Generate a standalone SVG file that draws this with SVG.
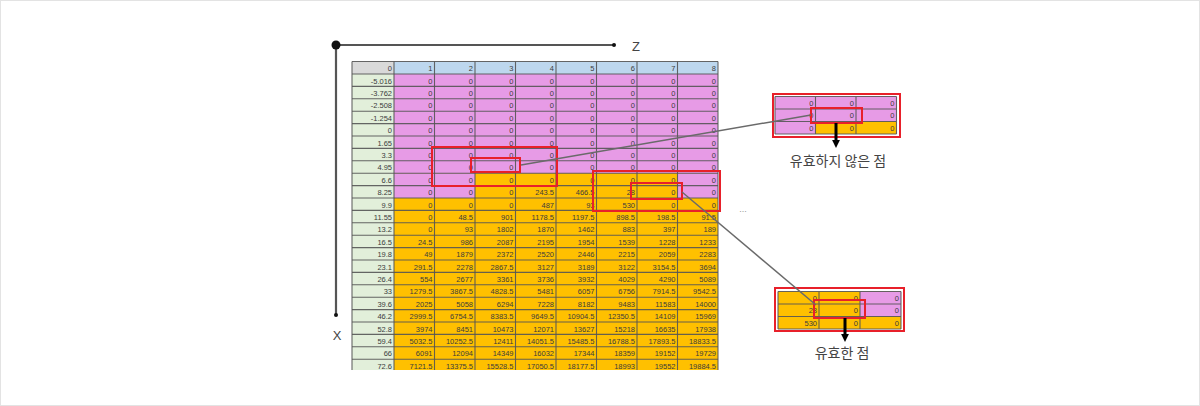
<svg xmlns="http://www.w3.org/2000/svg" width="1200" height="406" viewBox="0 0 1200 406">
<defs>
<style>
.t{font-family:"Liberation Sans",Arial,sans-serif;font-size:7.5px;fill:#3c3c3c;text-anchor:end}
.g{stroke:#555;stroke-width:1.1;fill:none;opacity:0.9}
.red{fill:none;stroke:#E8202A;stroke-width:2}
.pk{fill:#E79BE6}
.og{fill:#FFC000}
.conn{stroke:#6a6a6a;stroke-width:1.5;fill:none}
.ax{stroke:#555;stroke-width:2.2;fill:none}
.lbl{font-family:"Noto Sans CJK KR","Noto Sans",sans-serif;font-size:14px;fill:#444;text-anchor:middle}
.axl{font-family:"Liberation Sans",Arial,sans-serif;font-size:13px;fill:#444;text-anchor:middle}
</style>
<marker id="ah" viewBox="0 0 10 10" refX="5" refY="5" markerWidth="2.6" markerHeight="2.6" orient="auto">
<path d="M0,0 L10,5 L0,10 Z" fill="#000"/>
</marker>
<clipPath id="tc"><rect x="350" y="60" width="372" height="310"/></clipPath>
</defs>
<rect x="0.5" y="0.5" width="1199" height="405" fill="#fff" stroke="#e3e3e3"/>

<g id="axes">
<line class="ax" x1="336" y1="45" x2="614" y2="45"/>
<line class="ax" x1="336" y1="45" x2="336" y2="315"/>
<circle cx="336" cy="45" r="4.5" fill="#111"/>
<circle cx="614" cy="45" r="2" fill="#111"/>
<circle cx="336" cy="315" r="2" fill="#111"/>
<text class="axl" x="636" y="51">Z</text>
<text class="axl" x="337" y="340">X</text>
</g>

<g id="table" clip-path="url(#tc)">
<rect x="352" y="61.5" width="42" height="12.5" fill="#D9D9D9"/>
<rect x="394" y="61.5" width="324" height="12.5" fill="#BDD7EE"/>
<rect x="352" y="74" width="42" height="298" fill="#E2EFDA"/>
<rect class="og" x="394" y="74" width="324" height="298"/>
<rect class="pk" x="394" y="74" width="324" height="99.2"/>
<rect class="pk" x="394" y="173.2" width="81" height="24.8"/>
<rect class="pk" x="677.5" y="173.2" width="40.5" height="24.8"/>
<path class="g" d="M352,61.5H718M352,74H718M352,86.4H718M352,98.8H718M352,111.2H718M352,123.6H718M352,136H718M352,148.4H718M352,160.8H718M352,173.2H718M352,185.6H718M352,198H718M352,210.4H718M352,222.8H718M352,235.2H718M352,247.6H718M352,260H718M352,272.4H718M352,284.8H718M352,297.2H718M352,309.6H718M352,322H718M352,334.4H718M352,346.8H718M352,359.2H718"/>
<path class="g" d="M352,61.5V372M394,61.5V372M434.5,61.5V372M475,61.5V372M515.5,61.5V372M556,61.5V372M596.5,61.5V372M637,61.5V372M677.5,61.5V372M718,61.5V372"/>
<g transform="translate(0,61.5)"><text class="t" x="392" y="9.5">0</text><text class="t" x="432.5" y="9.5">1</text><text class="t" x="473" y="9.5">2</text><text class="t" x="513.5" y="9.5">3</text><text class="t" x="554" y="9.5">4</text><text class="t" x="594.5" y="9.5">5</text><text class="t" x="635" y="9.5">6</text><text class="t" x="675.5" y="9.5">7</text><text class="t" x="716" y="9.5">8</text></g>
<g transform="translate(0,74)"><text class="t" x="392" y="9.5">-5.016</text><text class="t" x="432.5" y="9.5">0</text><text class="t" x="473" y="9.5">0</text><text class="t" x="513.5" y="9.5">0</text><text class="t" x="554" y="9.5">0</text><text class="t" x="594.5" y="9.5">0</text><text class="t" x="635" y="9.5">0</text><text class="t" x="675.5" y="9.5">0</text><text class="t" x="716" y="9.5">0</text></g>
<g transform="translate(0,86.4)"><text class="t" x="392" y="9.5">-3.762</text><text class="t" x="432.5" y="9.5">0</text><text class="t" x="473" y="9.5">0</text><text class="t" x="513.5" y="9.5">0</text><text class="t" x="554" y="9.5">0</text><text class="t" x="594.5" y="9.5">0</text><text class="t" x="635" y="9.5">0</text><text class="t" x="675.5" y="9.5">0</text><text class="t" x="716" y="9.5">0</text></g>
<g transform="translate(0,98.8)"><text class="t" x="392" y="9.5">-2.508</text><text class="t" x="432.5" y="9.5">0</text><text class="t" x="473" y="9.5">0</text><text class="t" x="513.5" y="9.5">0</text><text class="t" x="554" y="9.5">0</text><text class="t" x="594.5" y="9.5">0</text><text class="t" x="635" y="9.5">0</text><text class="t" x="675.5" y="9.5">0</text><text class="t" x="716" y="9.5">0</text></g>
<g transform="translate(0,111.2)"><text class="t" x="392" y="9.5">-1.254</text><text class="t" x="432.5" y="9.5">0</text><text class="t" x="473" y="9.5">0</text><text class="t" x="513.5" y="9.5">0</text><text class="t" x="554" y="9.5">0</text><text class="t" x="594.5" y="9.5">0</text><text class="t" x="635" y="9.5">0</text><text class="t" x="675.5" y="9.5">0</text><text class="t" x="716" y="9.5">0</text></g>
<g transform="translate(0,123.6)"><text class="t" x="392" y="9.5">0</text><text class="t" x="432.5" y="9.5">0</text><text class="t" x="473" y="9.5">0</text><text class="t" x="513.5" y="9.5">0</text><text class="t" x="554" y="9.5">0</text><text class="t" x="594.5" y="9.5">0</text><text class="t" x="635" y="9.5">0</text><text class="t" x="675.5" y="9.5">0</text><text class="t" x="716" y="9.5">0</text></g>
<g transform="translate(0,136)"><text class="t" x="392" y="9.5">1.65</text><text class="t" x="432.5" y="9.5">0</text><text class="t" x="473" y="9.5">0</text><text class="t" x="513.5" y="9.5">0</text><text class="t" x="554" y="9.5">0</text><text class="t" x="594.5" y="9.5">0</text><text class="t" x="635" y="9.5">0</text><text class="t" x="675.5" y="9.5">0</text><text class="t" x="716" y="9.5">0</text></g>
<g transform="translate(0,148.4)"><text class="t" x="392" y="9.5">3.3</text><text class="t" x="432.5" y="9.5">0</text><text class="t" x="473" y="9.5">0</text><text class="t" x="513.5" y="9.5">0</text><text class="t" x="554" y="9.5">0</text><text class="t" x="594.5" y="9.5">0</text><text class="t" x="635" y="9.5">0</text><text class="t" x="675.5" y="9.5">0</text><text class="t" x="716" y="9.5">0</text></g>
<g transform="translate(0,160.8)"><text class="t" x="392" y="9.5">4.95</text><text class="t" x="432.5" y="9.5">0</text><text class="t" x="473" y="9.5">0</text><text class="t" x="513.5" y="9.5">0</text><text class="t" x="554" y="9.5">0</text><text class="t" x="594.5" y="9.5">0</text><text class="t" x="635" y="9.5">0</text><text class="t" x="675.5" y="9.5">0</text><text class="t" x="716" y="9.5">0</text></g>
<g transform="translate(0,173.2)"><text class="t" x="392" y="9.5">6.6</text><text class="t" x="432.5" y="9.5">0</text><text class="t" x="473" y="9.5">0</text><text class="t" x="513.5" y="9.5">0</text><text class="t" x="554" y="9.5">0</text><text class="t" x="594.5" y="9.5">0</text><text class="t" x="635" y="9.5">0</text><text class="t" x="675.5" y="9.5">0</text><text class="t" x="716" y="9.5">0</text></g>
<g transform="translate(0,185.6)"><text class="t" x="392" y="9.5">8.25</text><text class="t" x="432.5" y="9.5">0</text><text class="t" x="473" y="9.5">0</text><text class="t" x="513.5" y="9.5">0</text><text class="t" x="554" y="9.5">243.5</text><text class="t" x="594.5" y="9.5">466.5</text><text class="t" x="635" y="9.5">28</text><text class="t" x="675.5" y="9.5">0</text><text class="t" x="716" y="9.5">0</text></g>
<g transform="translate(0,198)"><text class="t" x="392" y="9.5">9.9</text><text class="t" x="432.5" y="9.5">0</text><text class="t" x="473" y="9.5">0</text><text class="t" x="513.5" y="9.5">0</text><text class="t" x="554" y="9.5">487</text><text class="t" x="594.5" y="9.5">93</text><text class="t" x="635" y="9.5">530</text><text class="t" x="675.5" y="9.5">0</text><text class="t" x="716" y="9.5">0</text></g>
<g transform="translate(0,210.4)"><text class="t" x="392" y="9.5">11.55</text><text class="t" x="432.5" y="9.5">0</text><text class="t" x="473" y="9.5">48.5</text><text class="t" x="513.5" y="9.5">901</text><text class="t" x="554" y="9.5">1178.5</text><text class="t" x="594.5" y="9.5">1197.5</text><text class="t" x="635" y="9.5">898.5</text><text class="t" x="675.5" y="9.5">198.5</text><text class="t" x="716" y="9.5">91.5</text></g>
<g transform="translate(0,222.8)"><text class="t" x="392" y="9.5">13.2</text><text class="t" x="432.5" y="9.5">0</text><text class="t" x="473" y="9.5">93</text><text class="t" x="513.5" y="9.5">1802</text><text class="t" x="554" y="9.5">1870</text><text class="t" x="594.5" y="9.5">1462</text><text class="t" x="635" y="9.5">883</text><text class="t" x="675.5" y="9.5">397</text><text class="t" x="716" y="9.5">189</text></g>
<g transform="translate(0,235.2)"><text class="t" x="392" y="9.5">16.5</text><text class="t" x="432.5" y="9.5">24.5</text><text class="t" x="473" y="9.5">986</text><text class="t" x="513.5" y="9.5">2087</text><text class="t" x="554" y="9.5">2195</text><text class="t" x="594.5" y="9.5">1954</text><text class="t" x="635" y="9.5">1539</text><text class="t" x="675.5" y="9.5">1228</text><text class="t" x="716" y="9.5">1233</text></g>
<g transform="translate(0,247.6)"><text class="t" x="392" y="9.5">19.8</text><text class="t" x="432.5" y="9.5">49</text><text class="t" x="473" y="9.5">1879</text><text class="t" x="513.5" y="9.5">2372</text><text class="t" x="554" y="9.5">2520</text><text class="t" x="594.5" y="9.5">2446</text><text class="t" x="635" y="9.5">2215</text><text class="t" x="675.5" y="9.5">2059</text><text class="t" x="716" y="9.5">2283</text></g>
<g transform="translate(0,260)"><text class="t" x="392" y="9.5">23.1</text><text class="t" x="432.5" y="9.5">291.5</text><text class="t" x="473" y="9.5">2278</text><text class="t" x="513.5" y="9.5">2867.5</text><text class="t" x="554" y="9.5">3127</text><text class="t" x="594.5" y="9.5">3189</text><text class="t" x="635" y="9.5">3122</text><text class="t" x="675.5" y="9.5">3154.5</text><text class="t" x="716" y="9.5">3694</text></g>
<g transform="translate(0,272.4)"><text class="t" x="392" y="9.5">26.4</text><text class="t" x="432.5" y="9.5">554</text><text class="t" x="473" y="9.5">2677</text><text class="t" x="513.5" y="9.5">3361</text><text class="t" x="554" y="9.5">3736</text><text class="t" x="594.5" y="9.5">3932</text><text class="t" x="635" y="9.5">4029</text><text class="t" x="675.5" y="9.5">4290</text><text class="t" x="716" y="9.5">5089</text></g>
<g transform="translate(0,284.8)"><text class="t" x="392" y="9.5">33</text><text class="t" x="432.5" y="9.5">1279.5</text><text class="t" x="473" y="9.5">3867.5</text><text class="t" x="513.5" y="9.5">4828.5</text><text class="t" x="554" y="9.5">5481</text><text class="t" x="594.5" y="9.5">6057</text><text class="t" x="635" y="9.5">6756</text><text class="t" x="675.5" y="9.5">7914.5</text><text class="t" x="716" y="9.5">9542.5</text></g>
<g transform="translate(0,297.2)"><text class="t" x="392" y="9.5">39.6</text><text class="t" x="432.5" y="9.5">2025</text><text class="t" x="473" y="9.5">5058</text><text class="t" x="513.5" y="9.5">6294</text><text class="t" x="554" y="9.5">7228</text><text class="t" x="594.5" y="9.5">8182</text><text class="t" x="635" y="9.5">9483</text><text class="t" x="675.5" y="9.5">11583</text><text class="t" x="716" y="9.5">14000</text></g>
<g transform="translate(0,309.6)"><text class="t" x="392" y="9.5">46.2</text><text class="t" x="432.5" y="9.5">2999.5</text><text class="t" x="473" y="9.5">6754.5</text><text class="t" x="513.5" y="9.5">8383.5</text><text class="t" x="554" y="9.5">9649.5</text><text class="t" x="594.5" y="9.5">10904.5</text><text class="t" x="635" y="9.5">12350.5</text><text class="t" x="675.5" y="9.5">14109</text><text class="t" x="716" y="9.5">15969</text></g>
<g transform="translate(0,322)"><text class="t" x="392" y="9.5">52.8</text><text class="t" x="432.5" y="9.5">3974</text><text class="t" x="473" y="9.5">8451</text><text class="t" x="513.5" y="9.5">10473</text><text class="t" x="554" y="9.5">12071</text><text class="t" x="594.5" y="9.5">13627</text><text class="t" x="635" y="9.5">15218</text><text class="t" x="675.5" y="9.5">16635</text><text class="t" x="716" y="9.5">17938</text></g>
<g transform="translate(0,334.4)"><text class="t" x="392" y="9.5">59.4</text><text class="t" x="432.5" y="9.5">5032.5</text><text class="t" x="473" y="9.5">10252.5</text><text class="t" x="513.5" y="9.5">12411</text><text class="t" x="554" y="9.5">14051.5</text><text class="t" x="594.5" y="9.5">15485.5</text><text class="t" x="635" y="9.5">16788.5</text><text class="t" x="675.5" y="9.5">17893.5</text><text class="t" x="716" y="9.5">18833.5</text></g>
<g transform="translate(0,346.8)"><text class="t" x="392" y="9.5">66</text><text class="t" x="432.5" y="9.5">6091</text><text class="t" x="473" y="9.5">12094</text><text class="t" x="513.5" y="9.5">14349</text><text class="t" x="554" y="9.5">16032</text><text class="t" x="594.5" y="9.5">17344</text><text class="t" x="635" y="9.5">18359</text><text class="t" x="675.5" y="9.5">19152</text><text class="t" x="716" y="9.5">19729</text></g>
<g transform="translate(0,359.2)"><text class="t" x="392" y="9.5">72.6</text><text class="t" x="432.5" y="9.5">7121.5</text><text class="t" x="473" y="9.5">13375.5</text><text class="t" x="513.5" y="9.5">15528.5</text><text class="t" x="554" y="9.5">17050.5</text><text class="t" x="594.5" y="9.5">18177.5</text><text class="t" x="635" y="9.5">18993</text><text class="t" x="675.5" y="9.5">19552</text><text class="t" x="716" y="9.5">19884.5</text></g>
</g>

<g id="table-highlights">
<rect class="red" x="432" y="147" width="125" height="39"/>
<rect class="red" x="471" y="158" width="49" height="14"/>
<rect class="red" x="593" y="171" width="127" height="40"/>
<rect class="red" x="631" y="183" width="51" height="16"/>
</g>

<text x="743" y="212" font-family="Liberation Sans, Arial, sans-serif" font-size="9" fill="#999" text-anchor="middle">...</text>

<g id="inset-invalid">
<rect class="pk" x="775" y="96.5" width="121.5" height="37.5"/>
<rect class="og" x="815.5" y="121.5" width="81" height="12.5"/>
<path class="g" d="M775,96.5H896.5M775,109H896.5M775,121.5H896.5M775,134H896.5M775,96.5V134M815.5,96.5V134M856,96.5V134M896.5,96.5V134"/>
<text class="t" x="813.5" y="105.5">0</text><text class="t" x="854" y="105.5">0</text><text class="t" x="894.5" y="105.5">0</text>
<text class="t" x="813.5" y="118">0</text><text class="t" x="854" y="118">0</text><text class="t" x="894.5" y="118">0</text>
<text class="t" x="813.5" y="130.5">0</text><text class="t" x="854" y="130.5">0</text><text class="t" x="894.5" y="130.5">0</text>
<rect class="red" x="773" y="94" width="127" height="43"/>
<rect class="red" x="811" y="108" width="51" height="15"/>
<text class="lbl" x="838" y="166">유효하지 않은 점</text>
</g>

<g id="inset-valid">
<rect class="og" x="778" y="291.5" width="123" height="37.5"/>
<rect class="pk" x="860" y="291.5" width="41" height="25"/>
<path class="g" d="M778,291.5H901M778,304H901M778,316.5H901M778,329H901M778,291.5V329M819,291.5V329M860,291.5V329M901,291.5V329"/>
<text class="t" x="817" y="300.5">0</text><text class="t" x="858" y="300.5">0</text><text class="t" x="899" y="300.5">0</text>
<text class="t" x="817" y="313">28</text><text class="t" x="858" y="313">0</text><text class="t" x="899" y="313">0</text>
<text class="t" x="817" y="325.5">530</text><text class="t" x="858" y="325.5">0</text><text class="t" x="899" y="325.5">0</text>
<rect class="red" x="775" y="288" width="129" height="43"/>
<rect class="red" x="814" y="300" width="51" height="18"/>
<text class="lbl" x="842" y="358">유효한 점</text>
</g>

<g id="connectors">
<line class="conn" x1="521" y1="165" x2="811" y2="115"/>
<line class="conn" x1="682" y1="192" x2="816" y2="305"/>
<line x1="836" y1="123" x2="836" y2="144" stroke="#000" stroke-width="3" marker-end="url(#ah)"/>
<line x1="845" y1="318" x2="845" y2="338" stroke="#000" stroke-width="3" marker-end="url(#ah)"/>
</g>
</svg>
